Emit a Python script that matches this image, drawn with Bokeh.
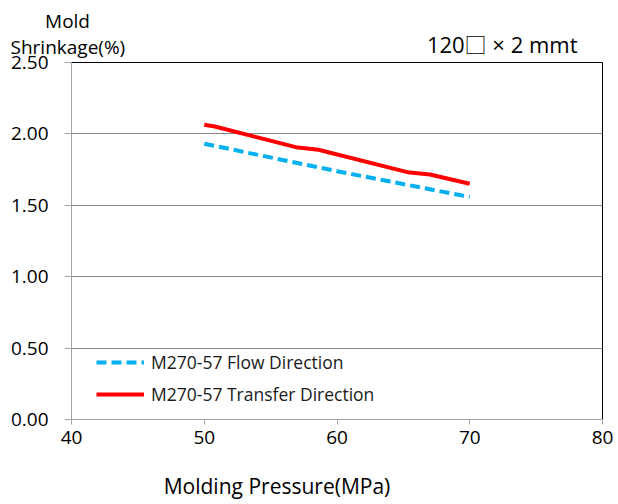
from bokeh.plotting import figure
from bokeh.models import Legend, LegendItem, FixedTicker, Range1d, Title
from bokeh.embed import file_html
from bokeh.resources import INLINE

# data
flow_x = [50, 60, 70]
flow_y = [1.931, 1.739, 1.558]
trans_x = [50, 50.8, 56.9, 58.6, 65.3, 67.0, 70]
trans_y = [2.064, 2.052, 1.907, 1.889, 1.732, 1.716, 1.651]
x_ticks = [40, 50, 60, 70, 80]
y_ticks = [0.0, 0.5, 1.0, 1.5, 2.0, 2.5]
y_tick_labels = {0.0: "0.00", 0.5: "0.50", 1.0: "1.00", 1.5: "1.50", 2.0: "2.00", 2.5: "2.50"}

FONT = "Open Sans"
NBSP = "\u00a0"

p = figure(width=618, height=504, output_backend="svg", toolbar_location=None,
           x_range=Range1d(40, 80), y_range=Range1d(0, 2.5), title=None,
           min_border_left=71, min_border_right=16, min_border_top=62, min_border_bottom=85)
p.outline_line_color = "black"
p.outline_line_width = 1
p.background_fill_color = "white"
p.border_fill_color = "white"

p.xgrid.visible = False
p.ygrid.grid_line_color = "#868686"
p.ygrid.ticker = FixedTicker(ticks=y_ticks)

p.xaxis.ticker = FixedTicker(ticks=x_ticks)
p.yaxis.ticker = FixedTicker(ticks=y_ticks)
p.yaxis.major_label_overrides = y_tick_labels
for ax in (p.xaxis, p.yaxis):
    ax.axis_line_color = "#a6a6a6"
    ax.major_tick_line_color = "#a6a6a6"
    ax.minor_tick_line_color = None
    ax.major_tick_in = 0
    ax.major_label_text_font = FONT
    ax.major_label_text_font_size = "19px"
    ax.major_label_text_color = "black"
p.yaxis.major_tick_out = 7
p.xaxis.major_tick_out = 5
p.yaxis.major_label_standoff = 16
p.xaxis.major_label_standoff = 6

# x axis title (trailing no-break spaces shift the visible text left of the frame centre)
p.xaxis.axis_label = "Molding Pressure(MPa)" + NBSP * 22
p.xaxis.axis_label_standoff = 25
p.xaxis.axis_label_text_font = FONT
p.xaxis.axis_label_text_font_size = "21px"
p.xaxis.axis_label_text_font_style = "normal"
p.xaxis.axis_label_text_color = "black"

r_flow = p.line(flow_x, flow_y, line_color="#00b0f0", line_width=4, line_dash="10 5")
r_trans = p.line(trans_x, trans_y, line_color="#ff0000", line_width=4)

legend = Legend(items=[LegendItem(label="M270-57 Flow Direction", renderers=[r_flow]),
                       LegendItem(label="M270-57 Transfer Direction", renderers=[r_trans])],
                location=(25, 13), padding=0, margin=0, spacing=8,
                glyph_width=48, glyph_height=24, label_height=24, label_standoff=7,
                border_line_color=None, background_fill_alpha=0,
                label_text_font=FONT, label_text_font_size="17.5px", label_text_color="#1a1a1a")
p.add_layout(legend, "center")

# titles (first added is nearest to the plot frame)
p.add_layout(Title(text="120\u25a1 \u00d7 2 mmt", align="right", offset=25, standoff=7,
                   text_font="'Open Sans', 'Noto Sans CJK JP'", text_font_size="22px",
                   text_font_style="normal", text_color="black"), "above")
p.add_layout(Title(text=NBSP * 7 + "Mold\nShrinkage(%)", align="left", offset=-61, standoff=-72,
                   text_font=FONT, text_font_size="19px", text_font_style="normal",
                   text_line_height=1.0, text_color="black"), "above")

open("out.html", "w").write(file_html(p, INLINE))
